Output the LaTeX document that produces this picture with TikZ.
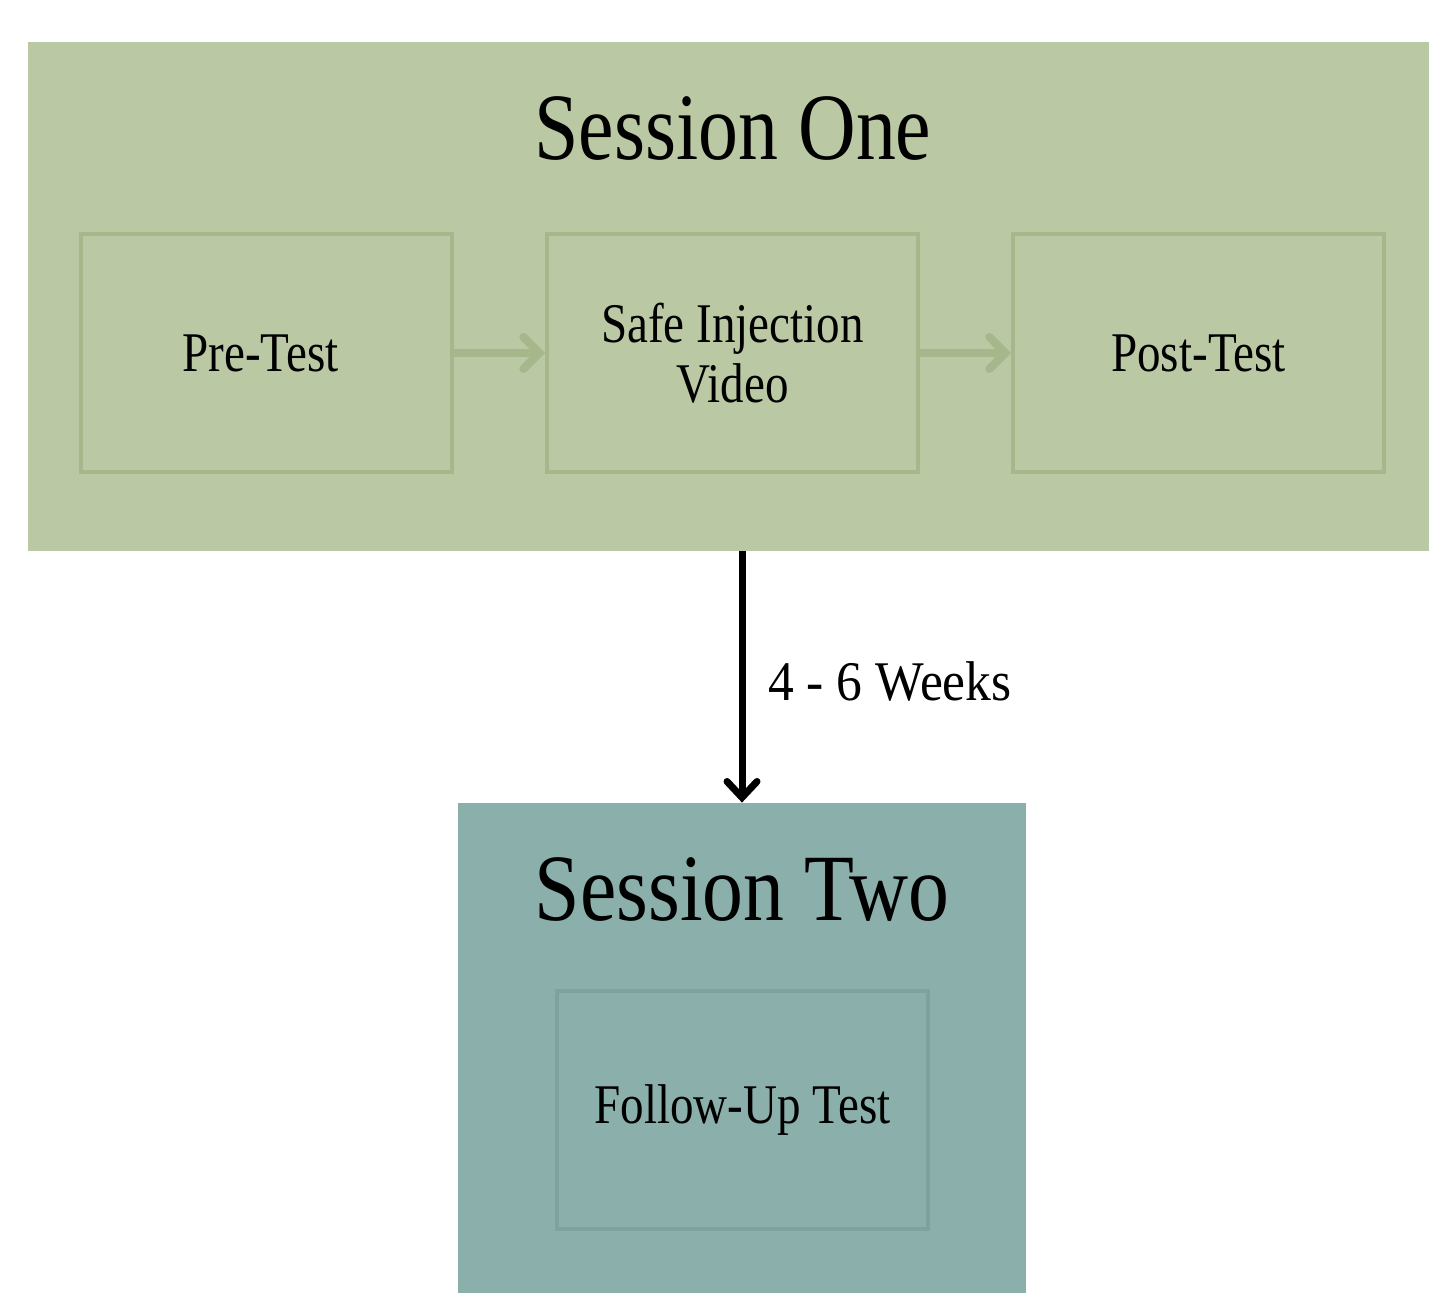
\documentclass[tikz,border=0pt]{standalone}
\usepackage{fontspec}
\setmainfont{Liberation Serif}[FakeStretch=0.84]
\newfontfamily\wkfont{Liberation Serif}[FakeStretch=0.92]
\newfontfamily\ttwofont{Liberation Serif}[FakeStretch=0.86]
\usetikzlibrary{arrows.meta}
\definecolor{sgreen}{HTML}{BBC8A4}
\definecolor{sgreenb}{HTML}{A7B78C}
\definecolor{steal}{HTML}{8BAFAB}
\definecolor{stealb}{HTML}{7EA29E}
\begin{document}
\begin{tikzpicture}[x=0.5pt,y=-0.5pt,
  panel/.style={draw=none,inner sep=0pt,minimum width=#1},
  inbox/.style={draw=#1,line width=2pt,inner sep=0pt,minimum width=185.5pt,minimum height=119pt,
    align=center,font=\fontsize{28}{30}\selectfont},
  title/.style={anchor=base,inner sep=0pt,font=\fontsize{47.5}{50}\selectfont},
  garrow/.style={draw=sgreenb,line width=4pt,-{Straight Barb[length=8pt,width=16pt,line cap=round]}},
  karrow/.style={draw=black,line width=3.5pt,-{Straight Barb[length=8pt,width=15pt,line cap=round]}}]
\useasboundingbox (0,0) rectangle (1429,1293);
% panels
\fill[sgreen] (28,42) rectangle (1429,551);
\node[panel=700.5pt,minimum height=254.5pt] (s1) at (728.5,296.5) {};
\fill[steal] (458,803) rectangle (1026,1293);
\node[panel=284pt,minimum height=245pt] (s2) at (742,1048) {};
% titles
\node[title] (t1) at (733,160) {Session One};
\node[title,font=\ttwofont\fontsize{47.5}{50}\selectfont] (t2) at (742,920) {Session Two};
% inner boxes
\node[inbox=sgreenb] (pre) at (266.5,353) {\raisebox{-2pt}{\hspace*{-6pt}Pre-Test}};
\node[inbox=sgreenb] (vid) at (732.5,353) {Safe Injection\\Video};
\node[inbox=sgreenb] (post) at (1198.5,353) {\raisebox{-2pt}{Post-Test}};
\node[inbox=stealb] (fu) at (742.5,1110) {\raisebox{-3pt}{Follow-Up Test}};
% arrows
\draw[garrow] (pre) -- (vid);
\draw[garrow] (vid) -- (post);
\draw[karrow] (s2.north |- s1.south) -- (s2.north)
  node[midway,right=8pt,yshift=-2pt,font=\wkfont\fontsize{28}{30}\selectfont] (wk) {4 - 6 Weeks};
\end{tikzpicture}
\end{document}
